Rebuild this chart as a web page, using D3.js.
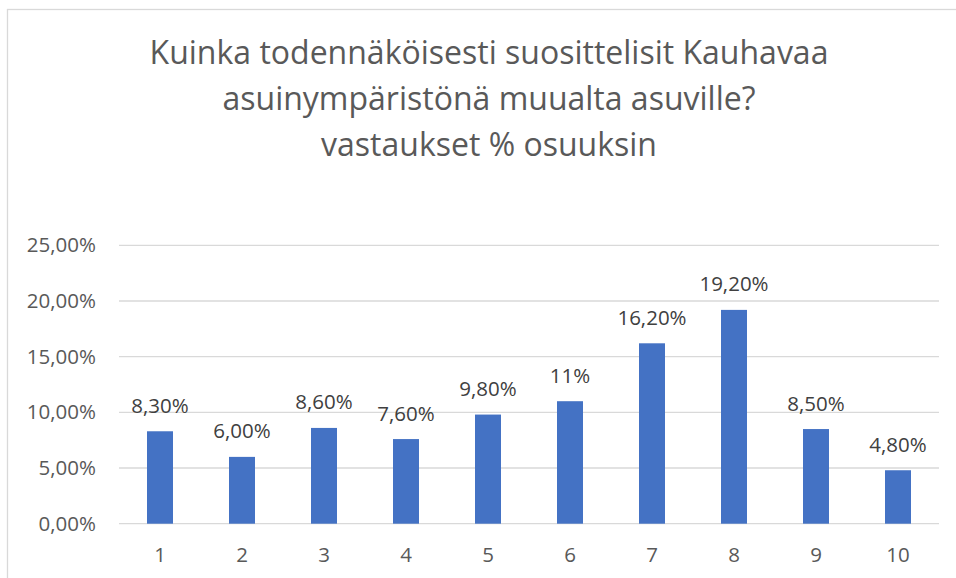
<!DOCTYPE html>
<html>
<head>
<meta charset="utf-8">
<script src="https://cdn.jsdelivr.net/npm/d3@7"></script>
<style>
  body { margin: 0; background: #fff; }
  svg text { font-family: "Open Sans", "Noto Sans", sans-serif; }
</style>
</head>
<body>
<div id="chart"></div>
<script>
// data
const categories = ["1", "2", "3", "4", "5", "6", "7", "8", "9", "10"];
const values = [8.3, 6.0, 8.6, 7.6, 9.8, 11, 16.2, 19.2, 8.5, 4.8];
const valueLabels = ["8,30%", "6,00%", "8,60%", "7,60%", "9,80%", "11%", "16,20%", "19,20%", "8,50%", "4,80%"];
const yTicks = [0, 5, 10, 15, 20, 25];
const yTickLabels = ["0,00%", "5,00%", "10,00%", "15,00%", "20,00%", "25,00%"];
const titleLines = ["Kuinka todennäköisesti suosittelisit Kauhavaa", "asuinympäristönä muualta asuville?", "vastaukset % osuuksin"];

const W = 956, H = 578;
const svg = d3.select("#chart").append("svg")
    .attr("width", W)
    .attr("height", H);

// chart frame (runs off the right and bottom edge)
svg.append("rect")
    .attr("x", 7.5).attr("y", 9.5)
    .attr("width", 1000).attr("height", 700)
    .attr("fill", "#fff")
    .attr("stroke", "#d9d9d9")
    .attr("stroke-width", 1.3);

// title
svg.append("g").selectAll("text")
    .data(titleLines)
    .enter().append("text")
    .attr("x", 489)
    .attr("y", (d, i) => 64 + i * 46)
    .attr("text-anchor", "middle")
    .style("font-size", "32px")
    .style("fill", "#595959")
    .text(d => d);

// scales
const x = d3.scaleBand()
    .domain(categories)
    .range([119, 939])
    .paddingInner(0.683)
    .paddingOuter(0.3415);

const y = d3.scaleLinear()
    .domain([0, 25])
    .range([523.7, 245.3]);

// gridlines
svg.append("g").selectAll("line")
    .data(yTicks)
    .enter().append("line")
    .attr("x1", 119).attr("x2", 939)
    .attr("y1", d => y(d)).attr("y2", d => y(d))
    .attr("stroke", "#d9d9d9")
    .attr("stroke-width", 1.3);

// y axis labels
svg.append("g").selectAll("text")
    .data(yTicks)
    .enter().append("text")
    .attr("x", 96)
    .attr("y", d => y(d) + 7)
    .attr("text-anchor", "end")
    .style("font-size", "20.5px")
    .style("fill", "#595959")
    .text((d, i) => yTickLabels[i]);

// bars
svg.append("g").selectAll("rect")
    .data(values)
    .enter().append("rect")
    .attr("x", (d, i) => x(categories[i]))
    .attr("width", x.bandwidth())
    .attr("y", d => y(d))
    .attr("height", d => y(0) - y(d))
    .attr("fill", "#4472c4");

// value labels
svg.append("g").selectAll("text")
    .data(values)
    .enter().append("text")
    .attr("x", (d, i) => x(categories[i]) + x.bandwidth() / 2)
    .attr("y", d => y(d) - 18.5)
    .attr("text-anchor", "middle")
    .style("font-size", "20.5px")
    .style("fill", "#404040")
    .text((d, i) => valueLabels[i]);

// x axis labels
svg.append("g").selectAll("text")
    .data(categories)
    .enter().append("text")
    .attr("x", d => x(d) + x.bandwidth() / 2)
    .attr("y", 562)
    .attr("text-anchor", "middle")
    .style("font-size", "20.5px")
    .style("fill", "#595959")
    .text(d => d);
</script>
</body>
</html>
